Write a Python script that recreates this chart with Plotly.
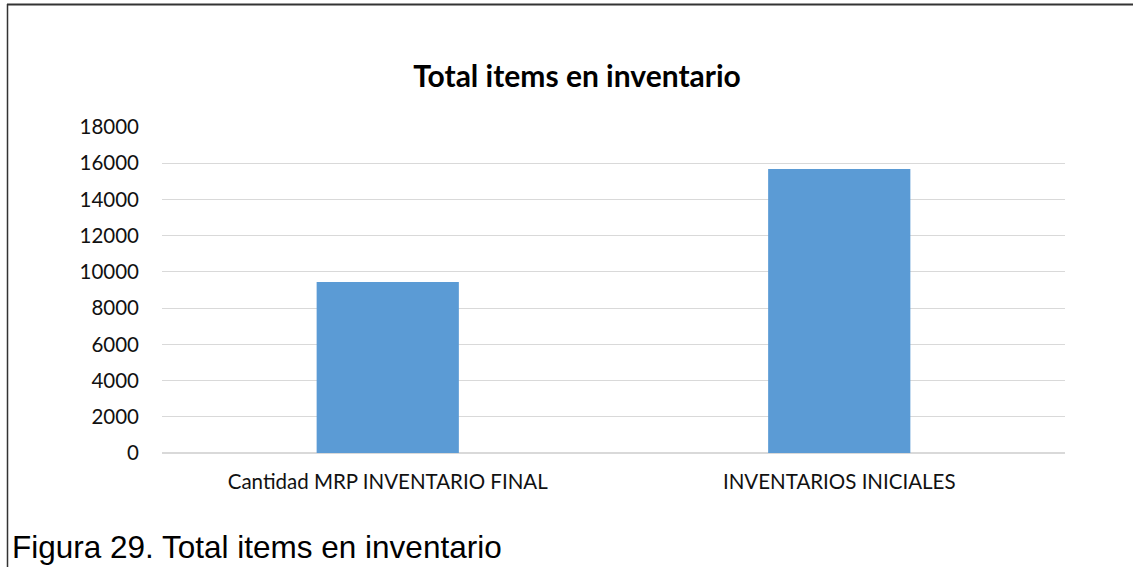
import plotly.graph_objects as go

categories = ["Cantidad MRP INVENTARIO FINAL", "INVENTARIOS INICIALES"]
values = [9440, 15680]
title_text = "Total items en inventario"
caption_text = "Figura 29. Total items en inventario"
y_ticks = list(range(0, 18001, 2000))

W, H = 1133, 567
L, R, T, B = 162, 1065, 127, 453

def px(x):
    return (x - L) / (R - L)

def py(y):
    return (B - y) / (B - T)

fig = go.Figure(go.Bar(x=categories, y=values, marker=dict(color="#5b9bd5", line=dict(width=0)),
                       width=0.315))

fig.update_layout(
    width=W, height=H,
    margin=dict(l=L, r=W - R, t=T, b=H - B, pad=0),
    paper_bgcolor="white", plot_bgcolor="white",
    showlegend=False,
    font=dict(family="Lato", color="#000000"),
    title=dict(text="<b>" + title_text + "</b>", x=577 / W, xanchor="center",
               y=1 - 76 / H, yanchor="middle", xref="container", yref="container",
               font=dict(family="Lato", size=30, color="#000000")),
    xaxis=dict(showgrid=False, showline=False, ticks="", tickfont=dict(size=20.5, color="#111111"),
               ticklabelstandoff=14),
    yaxis=dict(range=[0, 18000], tickvals=y_ticks, tickformat="d", showgrid=True, gridcolor="#d9d9d9",
               gridwidth=1, zeroline=True, zerolinecolor="#d9d9d9", zerolinewidth=1.5, showline=False,
               ticks="", tickfont=dict(size=20.5, color="#111111"), ticklabelstandoff=22),
    shapes=[
        dict(type="line", xref="paper", yref="paper", x0=px(7), x1=px(1133), y0=py(4.5), y1=py(4.5),
             line=dict(color="#333333", width=2)),
        dict(type="line", xref="paper", yref="paper", x0=px(7.5), x1=px(7.5), y0=py(4), y1=py(567),
             line=dict(color="#333333", width=1.5)),
    ],
    annotations=[
        dict(text=caption_text, xref="paper", yref="paper", x=px(10), y=py(547),
             xanchor="left", yanchor="middle", showarrow=False,
             font=dict(family="Liberation Sans", size=31.5, color="#000000")),
    ],
)

fig.write_html("out.html", config={"displayModeBar": False},
               post_script="document.body.style.margin='0';document.body.style.overflow='hidden';")
